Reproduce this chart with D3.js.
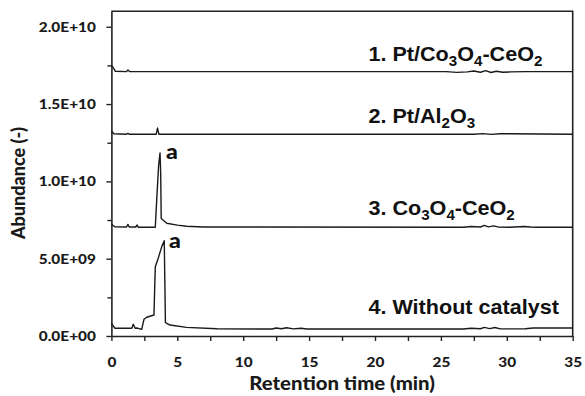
<!DOCTYPE html>
<html>
<head>
<meta charset="utf-8">
<script src="https://cdn.jsdelivr.net/npm/d3@7"></script>
<style>
  body { margin: 0; background: #fff; }
  svg { display: block; }
  .tick text { font-family: Lato, "Open Sans", sans-serif; font-weight: 900; fill: #1a1a1a; }
</style>
</head>
<body>
<div id="chart"></div>
<script>
// abundance values are in units of 1e9
var t1 = [0, 0.1, 0.3, 1.15, 1.25, 1.4, 25.4, 26.2, 27, 27.5, 28, 28.4, 28.8, 29.2, 29.7, 30.3, 31.4, 35];
var a1 = [17.5, 17.4, 17.12, 17.1, 17.2, 17.1, 17.1, 17.05, 17.08, 17.14, 17.06, 17.16, 17.04, 17.12, 17.06, 17.08, 17.1, 17.1];

var t2 = [0, 0.2, 1.15, 1.25, 1.35, 3.4, 3.5, 3.6, 27.5, 28.2, 28.8, 29.5, 35];
var a2 = [13.25, 13.08, 13.05, 13.1, 13.05, 13.05, 13.45, 13.05, 13.05, 13.09, 13.04, 13.08, 13.05];

var t3 = [0, 0.25, 1.15, 1.25, 1.35, 1.85, 1.95, 2.05, 3.33, 3.45, 3.58, 3.69, 3.74, 3.78, 4.2, 5, 5.7, 7, 26.7, 27.3, 28, 28.3, 28.6, 29, 29.4, 30.2, 31.3, 31.8, 32.3, 35];
var a3 = [7.24, 7.07, 7.05, 7.22, 7.05, 7.05, 7.18, 7.03, 7.03, 9.0, 11.0, 11.84, 10.5, 7.6, 7.29, 7.17, 7.1, 7.05, 7.03, 7.08, 7.05, 7.15, 7.06, 7.12, 7.04, 7.03, 7.08, 7.05, 7.03, 7.03];

var t4 = [0, 0.27, 1.55, 1.66, 1.8, 1.92, 2.3, 2.47, 2.68, 3.23, 3.33, 3.56, 3.82, 4.01, 4.1, 4.45, 5.7, 8, 12.2, 12.5, 12.9, 13.3, 13.8, 14.4, 14.8, 26.7, 27.3, 28, 28.3, 28.7, 29.1, 29.5, 31.4, 32, 35];
var a4 = [0.82, 0.5, 0.5, 0.76, 0.5, 0.52, 0.43, 1.08, 1.21, 1.36, 4.48, 5.05, 5.78, 6.16, 0.86, 0.71, 0.56, 0.47, 0.45, 0.52, 0.47, 0.53, 0.46, 0.5, 0.45, 0.45, 0.5, 0.47, 0.56, 0.48, 0.55, 0.46, 0.47, 0.52, 0.52];

// label text pieces, second value 1 = subscript
var labels = [
    [["1. Pt/Co", 0], ["3", 1], ["O", 0], ["4", 1], ["-CeO", 0], ["2", 1]],
    [["2. Pt/Al", 0], ["2", 1], ["O", 0], ["3", 1]],
    [["3. Co", 0], ["3", 1], ["O", 0], ["4", 1], ["-CeO", 0], ["2", 1]],
    [["4. Without catalyst", 0]]
];
var labelT = 19.5;
var labelA = [17.76, 13.8, 7.83, 1.42];

var peakT = [4.14, 4.37];
var peakA = [11.45, 5.69];

var yMajor = [0, 5, 10, 15, 20];
var yMinor = [2.5, 7.5, 12.5, 17.5];
var yTickText = ["0.0E+00", "5.0E+09", "1.0E+10", "1.5E+10", "2.0E+10"];
var xMajor = [0, 5, 10, 15, 20, 25, 30, 35];
var xMinor = [2.5, 7.5, 12.5, 17.5, 22.5, 27.5, 32.5];

var width = 585, height = 396;
var margin = { top: 11.3, right: 12.3, bottom: 60, left: 111.4 };
var sx = 1.1; // the original figure is a bit wider than tall, text looks stretched

var svg = d3.select("#chart").append("svg")
    .attr("width", width)
    .attr("height", height);

var x = d3.scaleLinear().domain([0, 35]).range([margin.left, width - margin.right]);
var y = d3.scaleLinear().domain([0, 21]).range([height - margin.bottom, margin.top]);

// frame top + right
svg.append("path")
    .attr("d", "M" + x(0) + "," + y(21) + "H" + x(35) + "V" + y(0))
    .attr("fill", "none")
    .attr("stroke", "#222")
    .attr("stroke-width", 1.6);

// minor ticks first, then the labelled axes
svg.append("g")
    .attr("transform", "translate(0," + y(0) + ")")
    .call(d3.axisBottom(x).tickValues(xMinor).tickSize(5).tickFormat(""))
    .call(function(g) { g.select(".domain").remove(); })
    .selectAll("line").attr("stroke", "#222").attr("stroke-width", 1.4);

svg.append("g")
    .attr("transform", "translate(" + x(0) + ",0)")
    .call(d3.axisLeft(y).tickValues(yMinor).tickSize(4).tickFormat(""))
    .call(function(g) { g.select(".domain").remove(); })
    .selectAll("line").attr("stroke", "#222").attr("stroke-width", 1.4);

var xAxis = svg.append("g")
    .attr("transform", "translate(0," + y(0) + ")")
    .call(d3.axisBottom(x).tickValues(xMajor).tickSize(5).tickSizeOuter(0).tickPadding(16));
xAxis.select(".domain").attr("stroke", "#222").attr("stroke-width", 1.6);
xAxis.selectAll("line").attr("stroke", "#222").attr("stroke-width", 1.4);
xAxis.selectAll("text")
    .style("font-size", "14px")
    .attr("transform", "scale(" + sx + ",1)");

var yAxis = svg.append("g")
    .attr("transform", "translate(" + x(0) + ",0)")
    .call(d3.axisLeft(y).tickValues(yMajor).tickSize(5).tickSizeOuter(0)
        .tickFormat(function(d, i) { return yTickText[i]; }));
yAxis.select(".domain").attr("stroke", "#222").attr("stroke-width", 1.6);
yAxis.selectAll("line").attr("stroke", "#222").attr("stroke-width", 1.4);
yAxis.selectAll("text")
    .style("font-size", "14px")
    .attr("x", -15.5 / sx)
    .attr("transform", "scale(" + sx + ",1)");

// axis titles
svg.append("text")
    .attr("transform", "translate(" + ((x(0) + x(35)) / 2) + ",390) scale(" + sx + ",1)")
    .attr("text-anchor", "middle")
    .style("font-family", "Lato, 'Open Sans', sans-serif")
    .style("font-weight", "900")
    .style("font-size", "18.5px")
    .style("fill", "#1a1a1a")
    .text("Retention time (min)");

svg.append("text")
    .attr("transform", "translate(25,183) rotate(-90)")
    .attr("text-anchor", "middle")
    .style("font-family", "Lato, 'Open Sans', sans-serif")
    .style("font-weight", "900")
    .style("font-size", "18px")
    .style("fill", "#1a1a1a")
    .text("Abundance (-)");

// chromatograms
var series = [[t1, a1], [t2, a2], [t3, a3], [t4, a4]];
var line = d3.line()
    .x(function(d) { return x(d[0]); })
    .y(function(d) { return y(d[1]); });

svg.append("g").selectAll("path")
    .data(series)
    .enter().append("path")
    .attr("d", function(s) { return line(d3.zip(s[0], s[1])); })
    .attr("fill", "none")
    .attr("stroke", "#1a1a1a")
    .attr("stroke-width", 1.4)
    .attr("stroke-linejoin", "round");

// sample labels
var lab = svg.append("g").selectAll("text")
    .data(labels)
    .enter().append("text")
    .attr("transform", function(d, i) {
        return "translate(" + x(labelT) + "," + y(labelA[i]) + ") scale(1.08,1)";
    })
    .style("font-family", "'Liberation Sans', Arial, sans-serif")
    .style("font-weight", "bold")
    .style("font-size", "20px")
    .style("fill", "#111");

lab.each(function(parts) {
    var el = d3.select(this);
    var prev = 0;
    parts.forEach(function(p) {
        var shift = (p[1] - prev) * 5;
        el.append("tspan")
            .attr("dy", shift)
            .style("font-size", p[1] ? "14px" : "20px")
            .text(p[0]);
        prev = p[1];
    });
});

// peak marks
svg.append("g").selectAll("text")
    .data(peakT)
    .enter().append("text")
    .attr("transform", function(d, i) {
        return "translate(" + x(d) + "," + y(peakA[i]) + ") scale(" + sx + ",1)";
    })
    .style("font-family", "Lato, 'Open Sans', sans-serif")
    .style("font-weight", "900")
    .style("font-size", "21px")
    .style("fill", "#111")
    .text("a");
</script>
</body>
</html>
